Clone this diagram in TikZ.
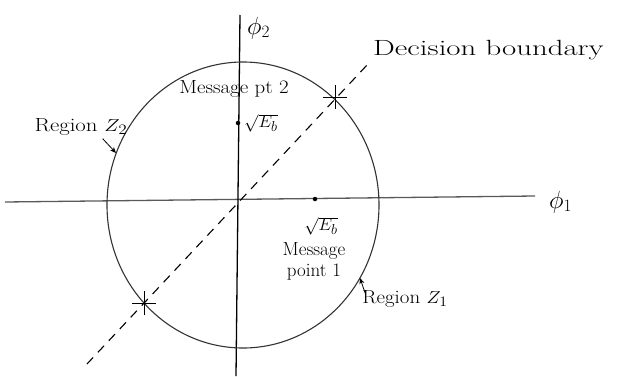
\documentclass[tikz,border=0pt]{standalone}
\usetikzlibrary{shapes.misc,shapes.geometric,arrows.meta}
\begin{document}
\begin{tikzpicture}[x=1pt,y=1pt,
  lbl/.style={font=\fontsize{19}{21}\selectfont, inner sep=1pt},
  axislbl/.style={font=\fontsize{24}{26}\selectfont, inner sep=1pt},
  axisline/.style={line width=1.3pt},
  boundary/.style={line width=1.1pt, dash pattern=on 9pt off 7pt},
  xmark/.style={cross out, draw, line width=1pt, minimum size=16pt, inner sep=0pt, rotate=45},
  dot/.style={circle, fill, inner sep=0pt, minimum size=4.5pt},
  pointer/.style={-{Stealth[length=6pt,width=5pt]}, line width=0.8pt}]
\useasboundingbox (0,0) rectangle (617,376);
% axes
\coordinate (hL) at (5,174);
\coordinate (hR) at (535,180);
\coordinate (vT) at (240,361);
\coordinate (vB) at (236,0);
\draw[axisline, black!65] (hL) -- (hR);
\draw[axisline] (vT) -- (vB);
\node[axislbl, anchor=west] (phi1) at (548,174) {$\phi_1$};
\node[axislbl, anchor=west] (phi2) at (246,348) {$\phi_2$};
% circle
\node[draw, ellipse, minimum width=272pt, minimum height=286pt, inner sep=0pt, line width=1.1pt, black!80] (circ) at (243,171) {};
% decision boundary
\coordinate (dbL) at (87,12);
\coordinate (dbR) at (368,312);
\node[xmark] (x1) at (335,279) {};
\node[xmark] (x2) at (144,73) {};
\draw[boundary] (dbL) -- (dbR);
\node[lbl, font=\fontsize{22}{24}\selectfont, anchor=west] (dec) at (372,326) {\scalebox{1.4}[1]{Decision boundary}};
% message points
\node[dot] (m2) at (238,253) {};
\node[dot] (m1) at (315,177) {};
\node[lbl] (m2lab) at (234,287) {\scalebox{1.1}[1]{Message pt 2}};
\node[lbl, anchor=west] (m2e) at (243,253) {$\sqrt{E_b}$};
\node[lbl] (m1e) at (321,150) {$\sqrt{E_b}$};
\node[lbl, align=center] (m1lab) at (314,115) {Message\\point 1};
% regions
\node[lbl] (z2) at (81,249) {\scalebox{1.2}[1]{Region $Z_2$}};
\coordinate (z2p) at (116,223);
\draw[pointer] (z2.south east) ++(-26,-2) -- (z2p);
\node[lbl] (z1) at (405,77) {\scalebox{1.1}[1]{Region $Z_1$}};
\coordinate (z1p) at (360,98);
\draw[pointer] (z1.north west) ++(4,-4) -- (z1p);
\end{tikzpicture}
\end{document}
